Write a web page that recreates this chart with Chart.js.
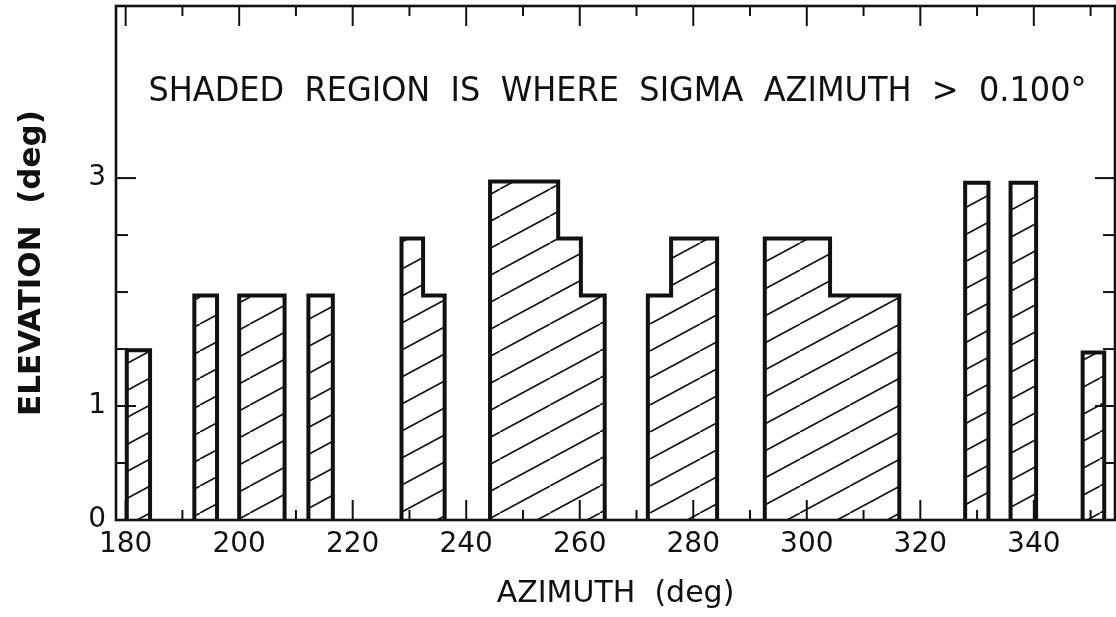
<!DOCTYPE html>
<html>
<head>
<meta charset="utf-8">
<script src="https://cdn.jsdelivr.net/npm/chart.js"></script>
<style>
  html, body { margin: 0; padding: 0; background: #fff; }
  #wrap { width: 1116px; height: 617px; }
</style>
</head>
<body>
<div id="wrap"><canvas id="chart"></canvas></div>
<script>
// axis ranges
const azMin = 178.3;
const azMax = 354.3;
const elMax = 4.51;
const elMarkTop = 3;            // tick marks stop at 3 deg
const elLabels = [0, 1, 3];     // only these are numbered
const azLabelMax = 340;

// shaded regions: azimuth edges and the elevation of each step between them
const regionEdges = [
    [180.2, 184.3],
    [192.1, 196.1],
    [200, 208],
    [212.2, 216.5],
    [228.6, 232.4, 236.2],
    [244.2, 256.2, 260.2, 264.4],
    [272, 276.1, 284.2],
    [292.6, 304.1, 316.3],
    [327.9, 332],
    [335.9, 340.4],
    [348.6, 352.4]
];
const regionLevels = [
    [1.49],
    [1.97],
    [1.97],
    [1.97],
    [2.47, 1.97],
    [2.97, 2.47, 1.97],
    [1.97, 2.47],
    [2.47, 1.97],
    [2.96],
    [2.96],
    [1.47]
];

const noteText = 'SHADED  REGION  IS  WHERE  SIGMA  AZIMUTH  >  0.100°';
const noteElevation = 3.75;

const INK = '#111';
const FONT = '"DejaVu Sans", "Liberation Sans", sans-serif';

function hatchPattern() {
    const w = 50, h = 27;
    const c = document.createElement('canvas');
    c.width = w;
    c.height = h;
    const g = c.getContext('2d');
    g.strokeStyle = INK;
    g.lineWidth = 1.6;
    [-w, 0, w].forEach(dx => {
        g.beginPath();
        g.moveTo(dx, h);
        g.lineTo(dx + w, 0);
        g.stroke();
    });
    return g.createPattern(c, 'repeat');
}

// outline of one region as points for a stepped line
function regionPoints(edges, levels) {
    const pts = [{ x: edges[0], y: 0 }];
    levels.forEach((lv, i) => pts.push({ x: edges[i], y: lv }));
    pts.push({ x: edges[edges.length - 1], y: 0 });
    return pts;
}

const hatch = hatchPattern();
const datasets = regionEdges.map((edges, i) => ({
    data: regionPoints(edges, regionLevels[i]),
    stepped: true,
    fill: 'origin',
    backgroundColor: hatch,
    borderColor: INK,
    borderWidth: 4,
    borderJoinStyle: 'miter',
    pointRadius: 0,
    tension: 0
}));

const axisMarks = {
    id: 'axisMarks',
    afterDatasetsDraw(chart) {
        const { ctx, chartArea: a, scales: { x, y } } = chart;
        ctx.save();
        ctx.strokeStyle = INK;
        ctx.lineWidth = 2.6;
        ctx.strokeRect(a.left, a.top, a.right - a.left, a.bottom - a.top);
        ctx.lineWidth = 2;
        const seg = (x1, y1, x2, y2) => {
            ctx.beginPath();
            ctx.moveTo(x1, y1);
            ctx.lineTo(x2, y2);
            ctx.stroke();
        };
        x.ticks.forEach(t => {
            const px = x.getPixelForValue(t.value);
            const len = t.value % 20 === 0 ? 20 : 10;
            seg(px, a.bottom, px, a.bottom - len);
            seg(px, a.top, px, a.top + len);
        });
        y.ticks.forEach(t => {
            if (t.value > elMarkTop || t.value === 0) return;
            const py = y.getPixelForValue(t.value);
            const len = elLabels.includes(t.value) ? 20 : 12;
            seg(a.left, py, a.left + len, py);
            seg(a.right, py, a.right - len, py);
        });
        ctx.restore();
    }
};

const note = {
    id: 'note',
    afterDraw(chart) {
        const { ctx, chartArea: a, scales: { y } } = chart;
        ctx.save();
        ctx.fillStyle = INK;
        ctx.font = '34px ' + FONT;
        ctx.textAlign = 'center';
        ctx.textBaseline = 'middle';
        ctx.fillText(noteText, (a.left + a.right) / 2 + 2, y.getPixelForValue(noteElevation), 938);
        ctx.restore();
    }
};

new Chart(document.getElementById('chart'), {
    type: 'line',
    data: { datasets },
    plugins: [axisMarks, note],
    options: {
        responsive: true,
        maintainAspectRatio: false,
        animation: false,
        layout: { padding: { top: 6, right: 1, left: 0, bottom: 0 } },
        plugins: {
            legend: { display: false },
            tooltip: { enabled: false }
        },
        scales: {
            x: {
                type: 'linear',
                min: azMin,
                max: azMax,
                afterFit: s => {
                    s.height = 97;
                    s.paddingLeft = 0;
                    s.paddingRight = 0;
                },
                grid: { display: false, drawTicks: false },
                border: { display: false },
                ticks: {
                    stepSize: 10,
                    includeBounds: false,
                    autoSkip: false,
                    maxRotation: 0,
                    padding: 8,
                    color: INK,
                    font: { family: FONT, size: 28 },
                    callback: v => (v % 20 === 0 && v <= azLabelMax) ? String(v) : ''
                },
                title: {
                    display: true,
                    text: 'AZIMUTH  (deg)',
                    color: INK,
                    font: { family: FONT, size: 30 },
                    padding: { top: 0, bottom: 5 }
                }
            },
            y: {
                min: 0,
                max: elMax,
                afterFit: s => {
                    s.width = 116;
                    s.paddingTop = 0;
                    s.paddingBottom = 0;
                },
                grid: { display: false, drawTicks: false },
                border: { display: false },
                ticks: {
                    stepSize: 0.5,
                    includeBounds: false,
                    autoSkip: false,
                    padding: 10,
                    color: INK,
                    font: { family: FONT, size: 28 },
                    callback: v => elLabels.includes(v) ? String(v) : ''
                },
                title: {
                    display: true,
                    text: 'ELEVATION  (deg)',
                    color: INK,
                    font: { family: FONT, size: 31, weight: 'bold' },
                    padding: { top: 13, bottom: 0 }
                }
            }
        }
    }
});
</script>
</body>
</html>
